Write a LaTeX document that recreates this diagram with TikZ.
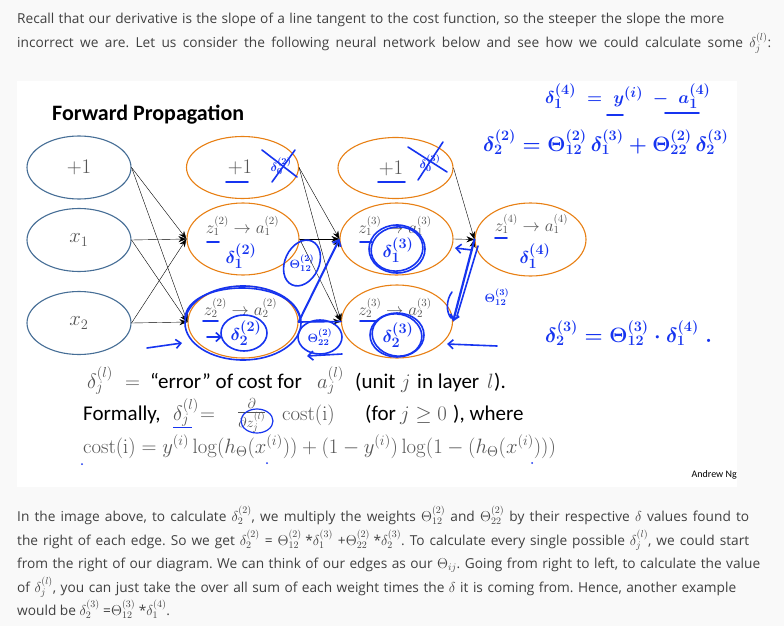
\documentclass[tikz,border=0pt]{standalone}
\usepackage[no-math]{fontspec}
\setmainfont{Open Sans}
\newfontfamily\slidefont{Carlito}
\usetikzlibrary{shapes.geometric,arrows.meta}
\definecolor{pagebg}{RGB}{249,249,249}
\definecolor{webtext}{RGB}{64,64,64}
\definecolor{inblue}{RGB}{70,110,150}
\definecolor{orng}{RGB}{232,128,20}
\definecolor{hand}{RGB}{22,52,240}
\definecolor{slidegray}{RGB}{85,85,85}
\frenchspacing
\begin{document}
\begin{tikzpicture}[x=1pt,y=-1pt,
  webtxt/.style={anchor=base west,inner sep=0,text=webtext,font=\fontsize{13.7}{16}\selectfont},
  inode/.style={ellipse,draw=inblue,line width=1.1pt,minimum width=104pt,minimum height=63pt,inner sep=0,text=slidegray,font=\fontsize{22}{24}\selectfont},
  onode/.style={ellipse,draw=orng,line width=1.1pt,inner sep=0},
  plab/.style={inner sep=0,text=slidegray,font=\fontsize{22}{24}\selectfont},
  zlab/.style={anchor=base,inner sep=0,text=slidegray,font=\fontsize{16}{18}\selectfont},
  netedge/.style={black,line width=0.4pt,-{Stealth[length=8pt,width=6pt]}},
  handpen/.style={hand,line width=1.6pt,line cap=round,line join=round},
  hbarb/.style={-{Straight Barb[length=5pt,width=9pt]}},
  hw/.style={inner sep=0,text=hand,font=\fontsize{19}{21}\selectfont\boldmath},
  hws/.style={inner sep=0,text=hand,font=\fontsize{13}{15}\selectfont\boldmath},
  slidetxt/.style={anchor=base west,inner sep=0,font=\slidefont\fontsize{21}{23}\selectfont},
  slidemath/.style={anchor=base west,inner sep=0,text=slidegray,font=\fontsize{21}{23}\selectfont},
]
\useasboundingbox (0,0) rectangle (784,626);
\fill[pagebg] (0,0) rectangle (784,626);
\fill[white] (17,81) rectangle (737,487);

% top web text
\node[webtxt] (t1) at (17,24) {\makebox[707pt][s]{Recall that our derivative is the slope of a line tangent to the cost function, so the steeper the slope the more}};
\node[webtxt] (t2) at (17,48) {\makebox[754pt][s]{incorrect we are. Let us consider the following neural network below and see how we could calculate some \mbox{$\delta_j^{(l)}$:}}};

% slide title
\node[anchor=base west,inner sep=0,font=\slidefont\bfseries\fontsize{22}{24}\selectfont] (title) at (52,120) {Forward Propagation};

% network nodes
\node[inode] (i0) at (79,167.5) {$+1$};
\node[inode] (i1) at (79,240) {$x_1$};
\node[inode] (i2) at (79,323) {$x_2$};
\node[onode,minimum width=112pt,minimum height=62pt] (h0) at (242.5,167.5) {};
\node[onode,minimum width=112pt,minimum height=72pt] (h1) at (243,239) {};
\node[onode,minimum width=110pt,minimum height=72pt] (h2) at (243,322) {};
\node[onode,minimum width=115pt,minimum height=61pt] (g0) at (395.5,168) {};
\node[onode,minimum width=113pt,minimum height=72pt] (g1) at (396.5,239) {};
\node[onode,minimum width=111pt,minimum height=73pt] (g2) at (397,321.5) {};
\node[onode,minimum width=111pt,minimum height=73pt] (o1) at (530.5,239.5) {};

\node[plab] (h0l) at (240,167) {$+1$};
\node[plab] (g0l) at (391,168) {$+1$};
\node[zlab] (h1l) at (242.5,233) {$z_1^{(2)}\rightarrow a_1^{(2)}$};
\node[zlab] (h2l) at (240.5,315) {$z_2^{(2)}\rightarrow a_2^{(2)}$};
\node[zlab] (g1l) at (395,233) {$z_1^{(3)}\rightarrow a_1^{(3)}$};
\node[zlab] (g2l) at (395,315) {$z_2^{(3)}\rightarrow a_2^{(3)}$};
\node[zlab] (o1l) at (531.5,231) {$z_1^{(4)}\rightarrow a_1^{(4)}$};

% edges
\foreach \s in {i0,i1,i2} \foreach \t in {h1,h2} \draw[netedge] (\s.east) -- (\t.west);
\foreach \s in {h0,h1,h2} \foreach \t in {g1,g2} \draw[netedge] (\s.east) -- (\t.west);
\foreach \s in {g0,g1,g2} \draw[netedge] (\s.east) -- (o1.west);

% ---- handwritten annotations ----
% underlines
\draw[handpen] (226,182) -- (248,182);
\draw[handpen] (378,182) -- (405,182);
\draw[handpen] (207,242) -- (219,242);
\draw[handpen] (203,321) -- (218,321);
\draw[handpen] (360,242) -- (372,242);
\draw[handpen] (360,321) -- (377,321);
\draw[handpen] (495,238) -- (507,238);

% crossed delta_0
\node[hws] (x2d) at (281,166) {$\delta^{(2)}_{0}$};
\draw[handpen] (262,150) -- (297,177);
\draw[handpen] (272,182) -- (295,150);
\node[hws] (x3d) at (430,163) {$\delta^{(3)}_{0}$};
\draw[handpen] (408,147) -- (447,172);
\draw[handpen] (418,180) -- (443,142);

% deltas in layer 2
\node[hw] (d21) at (241,256) {$\delta^{(2)}_1$};
\node[hw] (d22) at (246,333) {$\delta^{(2)}_2$};
\draw[handpen] (244,333) ellipse [x radius=23, y radius=18];
\draw[handpen,hbarb] (207,337) -- (222,337);
\draw[handpen] (243,323) ellipse [x radius=58, y radius=37];
\draw[handpen] (185,318) .. controls (188,280) and (290,276) .. (300,318);
\draw[handpen,hbarb] (147,348) -- (182,343);

% theta(2) 12 and 22
\node[hws] (th12) at (302,263) {$\Theta^{(2)}_{12}$};
\draw[handpen,rotate around={-25:(302,263)}] (302,263) ellipse [x radius=17, y radius=24];
\draw[handpen,line width=2pt,hbarb] (h2.east) -- (g1.west);
\draw[handpen] (h2.east) -- (g2.west);
\node[hws] (th22) at (320,337) {$\Theta^{(2)}_{22}$};
\draw[handpen] (320,337) ellipse [x radius=22, y radius=17];
\draw[handpen,hbarb] (342,354) -- (307,356);

% deltas in layer 3
\node[hw] (d31) at (398,250) {$\delta^{(3)}_1$};
\draw[handpen] (397,249) ellipse [x radius=28, y radius=24];
\draw[handpen,rotate around={10:(397,249)}] (397,249) ellipse [x radius=26, y radius=22];
\node[hw] (d32) at (398,335) {$\delta^{(3)}_2$};
\draw[handpen] (397,335) ellipse [x radius=27, y radius=22];
\draw[handpen,rotate around={-12:(397,335)}] (397,335) ellipse [x radius=25, y radius=21];
\draw[handpen,hbarb] (497,346) -- (447,344);

% layer 4
\node[hw] (d41) at (535,256) {$\delta^{(4)}_1$};
\draw[handpen,line width=2.2pt,hbarb] (o1.west) -- (g2.east);
\draw[handpen] (478,246) -- (457,316);
\draw[handpen,hbarb] (472,250) -- (455,248);
\draw[handpen] (452,292) .. controls (446,300) and (446,312) .. (451,318);
\node[hws] (th3) at (497,297) {$\Theta^{(3)}_{12}$};

% handwritten equations
\node[hw,anchor=west] (eq1) at (545,96) {$\delta^{(4)}_1 \;=\; y^{(i)} \;-\; a^{(4)}_1$};
\draw[handpen] (607,115) -- (623,115);
\draw[handpen] (665,113) -- (699,113);
\node[hw,anchor=west,font=\fontsize{21}{23}\selectfont\boldmath] (eq2) at (483,142) {$\delta^{(2)}_2 = \Theta^{(2)}_{12}\,\delta^{(3)}_1 + \Theta^{(2)}_{22}\,\delta^{(3)}_2$};
\node[hw,anchor=west,font=\fontsize{21}{23}\selectfont\boldmath] (eq3) at (545,333) {$\delta^{(3)}_2 = \Theta^{(3)}_{12}\cdot\delta^{(4)}_1\;.$};

% slide text line 1
\node[slidemath] (s1a) at (87,388) {$\delta_j^{(l)}$};
\node[slidemath] (s1b) at (125,388) {$=$};
\node[slidetxt] (s1c) at (150,388) {“error” of cost for};
\node[slidemath] (s1d) at (317,388) {$a_j^{(l)}$};
\node[slidetxt] (s1e) at (355,388) {(unit};
\node[slidemath] (s1f) at (401,388) {$j$};
\node[slidetxt] (s1g) at (417,388) {in layer};
\node[slidemath] (s1h) at (487,388) {$l$};
\node[slidetxt] (s1i) at (494,388) {).};
% slide text line 2
\node[slidetxt] (s2a) at (83,420) {Formally,};
\node[slidemath] (s2b) at (173,420) {$\delta_j^{(l)}$};
\node[slidemath] (s2c) at (200,420) {$=$};
\node[slidemath,font=\fontsize{19.5}{21}\selectfont] (s2d) at (237,417) {$\frac{\partial}{\partial z_j^{(l)}}$};
\node[slidemath] (s2e) at (282,420) {$\mathrm{cost(i)}$};
\node[slidetxt] (s2f) at (365,420) {(for};
\node[slidemath] (s2g) at (400,420) {$j\ge 0$};
\node[slidetxt] (s2h) at (453,420) {), where};
% slide text line 3
\node[slidemath,font=\fontsize{20.5}{22}\selectfont] (s3) at (83,453) {$\mathrm{cost(i)} = y^{(i)}\log(h_\Theta(x^{(i)})) + (1-y^{(i)})\log(1-(h_\Theta(x^{(i)})))$};
\draw[hand,line width=0.8pt] (173,427) -- (192,427);
\draw[handpen,line width=1.2pt] (257,421) ellipse [x radius=16, y radius=12];
\fill[hand] (82,464) circle (1pt);
\fill[hand] (267,463) circle (1pt);
\fill[hand] (532,463) circle (1pt);
\node[anchor=base east,inner sep=0,font=\slidefont\fontsize{10}{11}\selectfont] (ng) at (737,477) {Andrew Ng};

% bottom web text
\node[webtxt] (b1) at (17,521) {\makebox[732pt][s]{In the image above, to calculate \mbox{$\delta_2^{(2)}$,} we multiply the weights \mbox{$\Theta_{12}^{(2)}$} and \mbox{$\Theta_{22}^{(2)}$} by their respective \mbox{$\delta$} values found to}};
\node[webtxt] (b2) at (17,545) {\makebox[732pt][s]{the right of each edge. So we get \mbox{$\delta_2^{(2)}$} = \mbox{$\Theta_{12}^{(2)}$ *$\delta_1^{(3)}$} \mbox{+$\Theta_{22}^{(2)}$ *$\delta_2^{(3)}$.} To calculate every single possible \mbox{$\delta_j^{(l)}$,} we could start}};
\node[webtxt] (b3) at (17,568) {\makebox[743pt][s]{from the right of our diagram. We can think of our edges as our \mbox{$\Theta_{ij}$.} Going from right to left, to calculate the value}};
\node[webtxt] (b4) at (17,592) {\makebox[719pt][s]{of \mbox{$\delta_j^{(l)}$,} you can just take the over all sum of each weight times the \mbox{$\delta$} it is coming from. Hence, another example}};
\node[webtxt] (b5) at (17,615) {would be $\delta_2^{(3)}$ =$\Theta_{12}^{(3)}$ *$\delta_1^{(4)}$.};
\end{tikzpicture}
\end{document}
